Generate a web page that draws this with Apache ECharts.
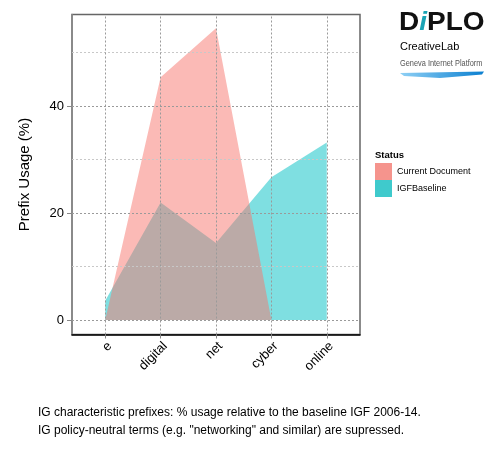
<!DOCTYPE html>
<html style="height: 100%">
<head>
<meta charset="utf-8">
</head>
<body style="height: 100%; margin: 0; background: #fff">
<div id="container" style="width: 500px; height: 450px"></div>
<script src="https://cdn.jsdelivr.net/npm/echarts@6/dist/echarts.min.js"></script>
<script type="text/javascript">
var categories = ['e', 'digital', 'net', 'cyber', 'online'];
var currentDoc = [0, 45.4, 54.6, 0, 0];
var igfBaseline = [3.6, 22.0, 14.4, 26.7, 33.2];
var yTicks = [0, 20, 40];
var yMinor = [10, 30, 50];

function toPairs(values) {
    var res = [];
    for (var i = 0; i < values.length; i++) {
        res.push([i + 1, values[i]]);
    }
    return res;
}
var xPositions = categories.map(function (c, i) { return i + 1; });

var font = 'Liberation Sans, Arial, sans-serif';
var chart = echarts.init(document.getElementById('container'));

var gridLines = [];
yTicks.forEach(function (v) {
    gridLines.push({ yAxis: v, lineStyle: { color: '#9a9a9a' } });
});
yMinor.forEach(function (v) {
    gridLines.push({ yAxis: v, lineStyle: { color: '#c8c8c8' } });
});
xPositions.forEach(function (v) {
    gridLines.push({ xAxis: v, lineStyle: { color: '#9a9a9a' } });
});

var option = {
    animation: false,
    textStyle: { fontFamily: font },
    grid: {
        left: 72, top: 14.5, width: 288, height: 320,
        show: true, borderColor: '#666', borderWidth: 1.5, backgroundColor: '#fff'
    },
    legend: {
        orient: 'vertical',
        left: 375, top: 163,
        padding: 0,
        itemWidth: 17, itemHeight: 17, itemGap: 0,
        icon: 'rect',
        textStyle: { fontSize: 9, color: '#000', fontFamily: font },
        data: [
            { name: 'Current Document', itemStyle: { color: '#F5948D', opacity: 1 } },
            { name: 'IGFBaseline', itemStyle: { color: '#3FCACC', opacity: 1 } }
        ]
    },
    xAxis: {
        type: 'value',
        min: 0.4, max: 5.6,
        axisLine: { show: true, onZero: false, lineStyle: { color: '#000', width: 1.5 } },
        axisTick: { show: true, length: 4, lineStyle: { color: '#888' }, customValues: xPositions },
        axisLabel: {
            rotate: 45, margin: 5, fontSize: 13, color: '#000',
            verticalAlign: 'top',
            customValues: xPositions,
            formatter: function (v) { return categories[Math.round(v) - 1]; }
        },
        splitLine: { show: false }
    },
    yAxis: {
        type: 'value',
        min: -2.7, max: 57.15,
        name: 'Prefix Usage (%)',
        nameLocation: 'middle',
        nameGap: 40,
        nameTextStyle: { fontSize: 15, color: '#000', fontFamily: font },
        axisLine: { show: true, lineStyle: { color: '#8a8a8a', width: 1.5 } },
        axisTick: { show: true, length: 5, lineStyle: { color: '#888' }, customValues: yTicks },
        axisLabel: { margin: 8, fontSize: 13, color: '#000', customValues: yTicks },
        splitLine: { show: false }
    },
    series: [
        {
            name: 'grid',
            type: 'line',
            data: [],
            z: 1,
            silent: true,
            markLine: {
                silent: true,
                symbol: 'none',
                label: { show: false },
                lineStyle: { type: [2, 2], width: 1 },
                data: gridLines
            }
        },
        {
            name: 'IGFBaseline',
            type: 'line',
            data: toPairs(igfBaseline),
            z: 2,
            symbol: 'none',
            lineStyle: { width: 0 },
            itemStyle: { color: '#00BFC4' },
            areaStyle: { color: '#00BFC4', opacity: 0.5, origin: 0 }
        },
        {
            name: 'Current Document',
            type: 'line',
            data: toPairs(currentDoc),
            z: 3,
            symbol: 'none',
            lineStyle: { width: 0 },
            itemStyle: { color: '#F8766D' },
            areaStyle: { color: '#F8766D', opacity: 0.5, origin: 0 }
        }
    ],
    graphic: [
        {
            type: 'text', left: 375, top: 150,
            style: { text: 'Status', font: 'bold 9.5px ' + font, fill: '#000' }
        },
        {
            type: 'text', left: 399, top: 10, scaleY: 0.92,
            style: {
                text: '{d|D}{i|i}{d|PLO}',
                rich: {
                    d: { font: '900 28px ' + font, fill: '#111' },
                    i: { font: 'italic 900 28px ' + font, fill: '#1aa3b5' }
                }
            }
        },
        {
            type: 'text', left: 400, top: 41,
            style: { text: 'CreativeLab', font: '11px ' + font, fill: '#000' }
        },
        {
            type: 'text', left: 400, top: 59, scaleX: 0.82,
            style: { text: 'Geneva Internet Platform', font: '9px ' + font, fill: '#555' }
        },
        {
            type: 'polygon',
            shape: { points: [[400, 73], [484, 71.5], [482, 74.5], [440, 78], [404, 76]] },
            style: {
                fill: new echarts.graphic.LinearGradient(0, 0, 1, 0, [
                    { offset: 0, color: '#8fd0f5' },
                    { offset: 1, color: '#0a7fd0' }
                ])
            }
        },
        {
            type: 'text', left: 38, top: 404,
            style: {
                text: 'IG characteristic prefixes: % usage relative to the baseline IGF 2006-14.\nIG policy-neutral terms (e.g. "networking" and similar) are supressed.',
                font: '12px ' + font, fill: '#000', lineHeight: 18
            }
        }
    ]
};
chart.setOption(option);
</script>
</body>
</html>
